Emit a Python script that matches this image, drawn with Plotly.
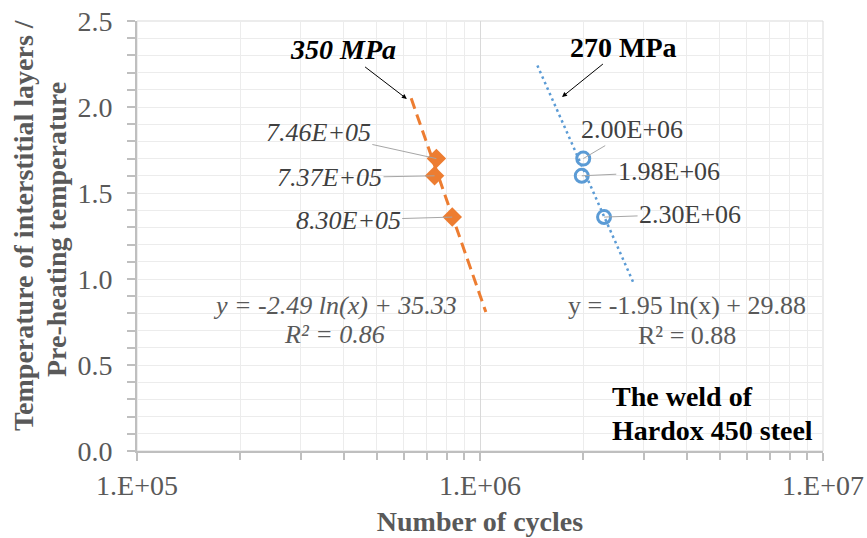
import numpy as np
import plotly.graph_objects as go

# ---------------- data ----------------
cycles_350 = [7.46e5, 7.37e5, 8.30e5]
ratio_350 = [1.70, 1.60, 1.36]
labels_350 = ["7.46E+05", "7.37E+05", "8.30E+05"]

cycles_270 = [2.00e6, 1.98e6, 2.30e6]
ratio_270 = [1.70, 1.60, 1.36]
labels_270 = ["2.00E+06", "1.98E+06", "2.30E+06"]

trend_span_350 = [6.3e5, 1.04e6]
trend_span_270 = [1.47e6, 2.8e6]

eq_350 = ["y = -2.49 ln(x) + 35.33", "R² = 0.86"]
eq_270 = ["y = -1.95 ln(x) + 29.88", "R² = 0.88"]

x_tick_vals = [1e5, 1e6, 1e7]
x_tick_text = ["1.E+05", "1.E+06", "1.E+07"]
y_tick_vals = [0.0, 0.5, 1.0, 1.5, 2.0, 2.5]

series_names = ["350 MPa", "270 MPa"]
x_title = "Number of cycles"
y_title_lines = ["Temperature of interstitial layers /", "Pre-heating temperature"]
note_lines = ["The weld of", "Hardox 450 steel"]

# ---------------- styles ----------------
FONT = "Liberation Serif"
ORANGE = "#ED7D31"
BLUE = "#5B9BD5"
GRAY_TXT = "#595959"
LBL_TXT = "#404040"
AXIS_COL = "#bfbfbf"
GRID_MINOR = "#ececec"
GRID_MAJOR = "#d9d9d9"


def log_trend(xs, ys, span):
    k, b = np.polyfit(np.log(xs), ys, 1)
    sx = np.array(span, dtype=float)
    return sx, k * np.log(sx) + b


fig = go.Figure()

tx, ty = log_trend(cycles_350, ratio_350, trend_span_350)
fig.add_trace(go.Scatter(x=tx, y=ty, mode="lines",
                         line=dict(color=ORANGE, width=3, dash="11px,6px"),
                         showlegend=False, hoverinfo="skip"))
tx, ty = log_trend(cycles_270, ratio_270, trend_span_270)
fig.add_trace(go.Scatter(x=tx, y=ty, mode="lines",
                         line=dict(color=BLUE, width=2.5, dash="2.5px,3.5px"),
                         showlegend=False, hoverinfo="skip"))

fig.add_trace(go.Scatter(x=cycles_350, y=ratio_350, mode="markers", name=series_names[0],
                         marker=dict(symbol="diamond", size=15, color=ORANGE,
                                     line=dict(width=0)),
                         showlegend=False))
fig.add_trace(go.Scatter(x=cycles_270, y=ratio_270, mode="markers", name=series_names[1],
                         marker=dict(symbol="circle-open", size=13, color=BLUE,
                                     line=dict(width=3, color=BLUE)),
                         showlegend=False))

annotations = []

# data labels with leader lines (pixel offsets of label centre from the point)
offsets_350 = [(-118, -26), (-105, 2), (-104, 3)]
offsets_270 = [(49, -29), (87, -4), (86, -3)]
for xv, yv, txt, (ax, ay) in zip(cycles_350, ratio_350, labels_350, offsets_350):
    annotations.append(dict(x=np.log10(xv), y=yv, xref="x", yref="y", text="<i>" + txt + "</i>",
                            showarrow=True, arrowhead=0, arrowwidth=1,
                            arrowcolor="#a6a6a6", ax=ax, ay=ay,
                            font=dict(family=FONT, size=26, color=LBL_TXT)))
for xv, yv, txt, (ax, ay) in zip(cycles_270, ratio_270, labels_270, offsets_270):
    annotations.append(dict(x=np.log10(xv), y=yv, xref="x", yref="y", text=txt,
                            showarrow=True, arrowhead=0, arrowwidth=1,
                            arrowcolor="#a6a6a6", ax=ax, ay=ay,
                            font=dict(family=FONT, size=26, color=LBL_TXT)))

# series name callouts with arrows
annotations.append(dict(x=np.log10(6.12e5), y=2.047, xref="x", yref="y",
                        text="<b><i>" + series_names[0] + "</i></b>",
                        showarrow=True, arrowhead=2, arrowsize=1, arrowwidth=1,
                        arrowcolor="black", ax=-64, ay=-49,
                        font=dict(family=FONT, size=28, color="black")))
annotations.append(dict(x=np.log10(1.734e6), y=2.058, xref="x", yref="y",
                        text="<b>" + series_names[1] + "</b>",
                        showarrow=True, arrowhead=2, arrowsize=1, arrowwidth=1,
                        arrowcolor="black", ax=62, ay=-50,
                        font=dict(family=FONT, size=28, color="black")))

# trendline equations
for txt, yv in zip(eq_350, [0.845, 0.68]):
    annotations.append(dict(x=5.577, y=yv, xref="x", yref="y", text="<i>" + txt + "</i>",
                            showarrow=False,
                            font=dict(family=FONT, size=26, color=GRAY_TXT)))
for txt, yv in zip(eq_270, [0.845, 0.67]):
    annotations.append(dict(x=6.603, y=yv, xref="x", yref="y", text=txt,
                            showarrow=False,
                            font=dict(family=FONT, size=26, color=GRAY_TXT)))

# note
for txt, yv in zip(note_lines, [0.314, 0.122]):
    annotations.append(dict(x=6.38, y=yv, xref="x", yref="y", text="<b>" + txt + "</b>",
                            showarrow=False, xanchor="left",
                            font=dict(family=FONT, size=28, color="black")))

# y-axis title (two rotated lines)
for txt, xp, yp in zip(y_title_lines, [-0.1647, -0.1166], [0.5256, 0.514]):
    annotations.append(dict(x=xp, y=yp, xref="paper", yref="paper", text="<b>" + txt + "</b>",
                            showarrow=False, textangle=-90,
                            xanchor="center", yanchor="middle",
                            font=dict(family=FONT, size=28, color=GRAY_TXT)))

fig.update_layout(
    width=867, height=538,
    margin=dict(l=137, r=44, t=21, b=87, autoexpand=False),
    paper_bgcolor="white", plot_bgcolor="white",
    font=dict(family=FONT, size=28, color=GRAY_TXT),
    annotations=annotations,
    shapes=[dict(type="rect", xref="x domain", yref="y domain", x0=0, x1=1, y0=0, y1=1,
                 line=dict(color=GRID_MAJOR, width=1), layer="below")],
)

fig.update_xaxes(
    type="log", range=[5, 7], automargin=False,
    tickmode="array", tickvals=x_tick_vals, ticktext=x_tick_text,
    tickfont=dict(family=FONT, size=28, color=GRAY_TXT),
    showgrid=True, gridcolor=GRID_MAJOR, gridwidth=1,
    showline=True, linecolor=AXIS_COL, linewidth=2,
    ticks="outside", ticklen=8, tickcolor=AXIS_COL, tickwidth=2,
    minor=dict(dtick="D1", ticks="outside", ticklen=7, tickcolor=AXIS_COL, tickwidth=1.5,
               showgrid=True, gridcolor=GRID_MINOR, gridwidth=1),
    title=dict(text="<b>" + x_title + "</b>", standoff=12,
               font=dict(family=FONT, size=28, color=GRAY_TXT)),
    zeroline=False,
)
fig.update_yaxes(
    range=[0, 2.5], automargin=False,
    tickmode="array", tickvals=y_tick_vals, tickformat=".1f",
    tickfont=dict(family=FONT, size=28, color=GRAY_TXT),
    ticklabelstandoff=9,
    showgrid=True, gridcolor=GRID_MINOR, gridwidth=1,
    showline=True, linecolor=AXIS_COL, linewidth=2,
    ticks="outside", ticklen=8, tickcolor=AXIS_COL, tickwidth=2,
    minor=dict(dtick=0.1, ticks="outside", ticklen=8, tickcolor=AXIS_COL, tickwidth=1.5,
               showgrid=True, gridcolor=GRID_MINOR, gridwidth=1),
    zeroline=False,
)

fig.write_html("out.html", config={"displayModeBar": False},
               post_script="document.body.style.margin='0';")
